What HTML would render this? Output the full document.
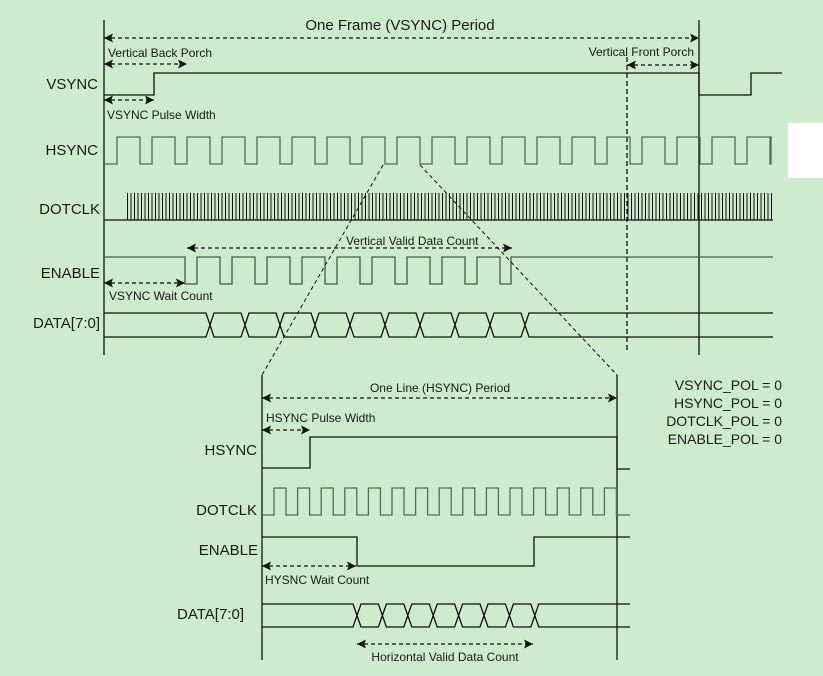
<!DOCTYPE html>
<html><head><meta charset="utf-8"><style>
html,body{margin:0;padding:0;background:#cdebcd;}
svg{display:block;font-family:"Liberation Sans",Arial,sans-serif;}
</style></head><body>
<svg width="823" height="676" viewBox="0 0 823 676" xmlns="http://www.w3.org/2000/svg">
<defs>
<marker id="ae" viewBox="0 0 10 10" refX="10" refY="5" markerWidth="12" markerHeight="9" markerUnits="userSpaceOnUse" orient="auto"><path d="M0,0 L10,5 L0,10 L2,5 z" fill="#111"/></marker>
<marker id="as" viewBox="0 0 10 10" refX="0" refY="5" markerWidth="12" markerHeight="9" markerUnits="userSpaceOnUse" orient="auto"><path d="M10,0 L0,5 L10,10 L8,5 z" fill="#111"/></marker>
<pattern id="clk" x="127" y="193" width="3.5" height="27" patternUnits="userSpaceOnUse"><rect x="0" y="0" width="1" height="27" fill="#111"/></pattern>
</defs>
<rect x="788" y="123" width="35" height="55" fill="#fff"/>
<g fill="none" stroke="#111" stroke-width="1.3">
<line x1="104" y1="20" x2="104" y2="355"/>
<line x1="699" y1="20" x2="699" y2="355"/>
<line x1="627" y1="57" x2="627" y2="352" stroke-dasharray="5,3"/>
<g stroke-dasharray="4,3" marker-start="url(#as)" marker-end="url(#ae)">
<line x1="104" y1="38" x2="699" y2="38"/>
<line x1="104" y1="64" x2="187" y2="64"/>
<line x1="104" y1="100" x2="154" y2="100"/>
<line x1="627" y1="65" x2="699" y2="65"/>
<line x1="187" y1="248" x2="512" y2="248"/>
<line x1="104" y1="283" x2="185" y2="283"/>
<line x1="262" y1="398" x2="617" y2="398"/>
<line x1="262" y1="430" x2="310" y2="430"/>
<line x1="262" y1="566" x2="356" y2="566"/>
<line x1="357" y1="644" x2="533" y2="644"/>
</g>
<path d="M104,95 H154 V73 H699 V95 H751 V73 H782"/>
<path stroke="#4f6f4f" d="M104,164 H117 v-27h23v27h12 v-27h23v27h12 v-27h23v27h12 v-27h23v27h12 v-27h23v27h12 v-27h23v27h12 v-27h23v27h12 v-27h23v27h12 v-27h23v27h12 v-27h23v27h12 v-27h23v27h12 v-27h23v27h12 v-27h23v27h12 v-27h23v27h12 v-27h23v27h12 v-27h23v27h12 v-27h23v27h12 v-27h23v27h12 v-27h23v27h1 v-27h1"/>
<line x1="104" y1="220" x2="773" y2="220"/>
<path stroke="#3f5f3f" d="M104,257 H185 V284 h12v-27h23v27 h12v-27h23v27 h12v-27h23v27 h12v-27h23v27 h12v-27h23v27 h12v-27h23v27 h12v-27h23v27 h12v-27h23v27 h12v-27h23v27 h11 v-27 H773"/>
<path d="M104,313 H206 l4,12 l4,-12 h27 l4,12 l4,-12 h27 l4,12 l4,-12 h27 l4,12 l4,-12 h27 l4,12 l4,-12 h27 l4,12 l4,-12 h27 l4,12 l4,-12 h27 l4,12 l4,-12 h27 l4,12 l4,-12 h27 l4,12 l4,-12 H773"/>
<path d="M104,337 H206 l4,-12 l4,12 h27 l4,-12 l4,12 h27 l4,-12 l4,12 h27 l4,-12 l4,12 h27 l4,-12 l4,12 h27 l4,-12 l4,12 h27 l4,-12 l4,12 h27 l4,-12 l4,12 h27 l4,-12 l4,12 h27 l4,-12 l4,12 H773"/>
<line x1="383" y1="165" x2="262" y2="375" stroke-width="1" stroke-dasharray="4,3"/>
<line x1="420" y1="165" x2="617" y2="375" stroke-width="1" stroke-dasharray="4,3"/>
<line x1="262" y1="375" x2="262" y2="660"/>
<line x1="617" y1="375" x2="617" y2="660"/>
<path d="M262,468 H310 V437 H617 V469 H630"/>
<path stroke="#4f6f4f" d="M262,515 H274 v-27h12v27h11.6 v-27h12v27h11.6 v-27h12v27h11.6 v-27h12v27h11.6 v-27h12v27h11.6 v-27h12v27h11.6 v-27h12v27h11.6 v-27h12v27h11.6 v-27h12v27h11.6 v-27h12v27h11.6 v-27h12v27h11.6 v-27h12v27h11.6 v-27h12v27h11.6 v-27h12v27h11.6 v-27h12v27 H630"/>
<path d="M262,537 H357 V566 H534 V537 H630"/>
<path d="M262,604 H353 l4,11.5 l4,-11.5 h17.4 l4,11.5 l4,-11.5 h17.4 l4,11.5 l4,-11.5 h17.4 l4,11.5 l4,-11.5 h17.4 l4,11.5 l4,-11.5 h17.4 l4,11.5 l4,-11.5 h17.4 l4,11.5 l4,-11.5 h17.4 l4,11.5 l4,-11.5 H630"/>
<path d="M262,627 H353 l4,-11.5 l4,11.5 h17.4 l4,-11.5 l4,11.5 h17.4 l4,-11.5 l4,11.5 h17.4 l4,-11.5 l4,11.5 h17.4 l4,-11.5 l4,11.5 h17.4 l4,-11.5 l4,11.5 h17.4 l4,-11.5 l4,11.5 h17.4 l4,-11.5 l4,11.5 H630"/>
</g>
<rect x="127" y="193" width="647" height="27" fill="url(#clk)"/>
<g fill="#1a1a1a" font-size="15">
<text x="98" y="89" text-anchor="end">VSYNC</text>
<text x="98" y="155" text-anchor="end">HSYNC</text>
<text x="100" y="214" text-anchor="end">DOTCLK</text>
<text x="100" y="278" text-anchor="end">ENABLE</text>
<text x="100" y="328" text-anchor="end">DATA[7:0]</text>
<text x="400" y="30" text-anchor="middle">One Frame (VSYNC) Period</text>
<text x="257" y="455" text-anchor="end">HSYNC</text>
<text x="257" y="515" text-anchor="end">DOTCLK</text>
<text x="258" y="555" text-anchor="end">ENABLE</text>
<text x="244" y="619" text-anchor="end">DATA[7:0]</text>
</g>
<g fill="#1a1a1a" font-size="14">
<text x="782" y="390" text-anchor="end">VSYNC_POL = 0</text>
<text x="782" y="408" text-anchor="end">HSYNC_POL = 0</text>
<text x="782" y="426" text-anchor="end">DOTCLK_POL = 0</text>
<text x="782" y="444" text-anchor="end">ENABLE_POL = 0</text>
</g>
<g fill="#1a1a1a" font-size="12">
<text x="108" y="57">Vertical Back Porch</text>
<text x="107" y="119">VSYNC Pulse Width</text>
<text x="694" y="56" text-anchor="end">Vertical Front Porch</text>
<text x="346" y="245">Vertical Valid Data Count</text>
<text x="109" y="300">VSYNC Wait Count</text>
<text x="440" y="392" text-anchor="middle">One Line (HSYNC) Period</text>
<text x="266" y="422">HSYNC Pulse Width</text>
<text x="265" y="584">HYSNC Wait Count</text>
<text x="445" y="661" text-anchor="middle">Horizontal Valid Data Count</text>
</g>
</svg>
</body></html>
